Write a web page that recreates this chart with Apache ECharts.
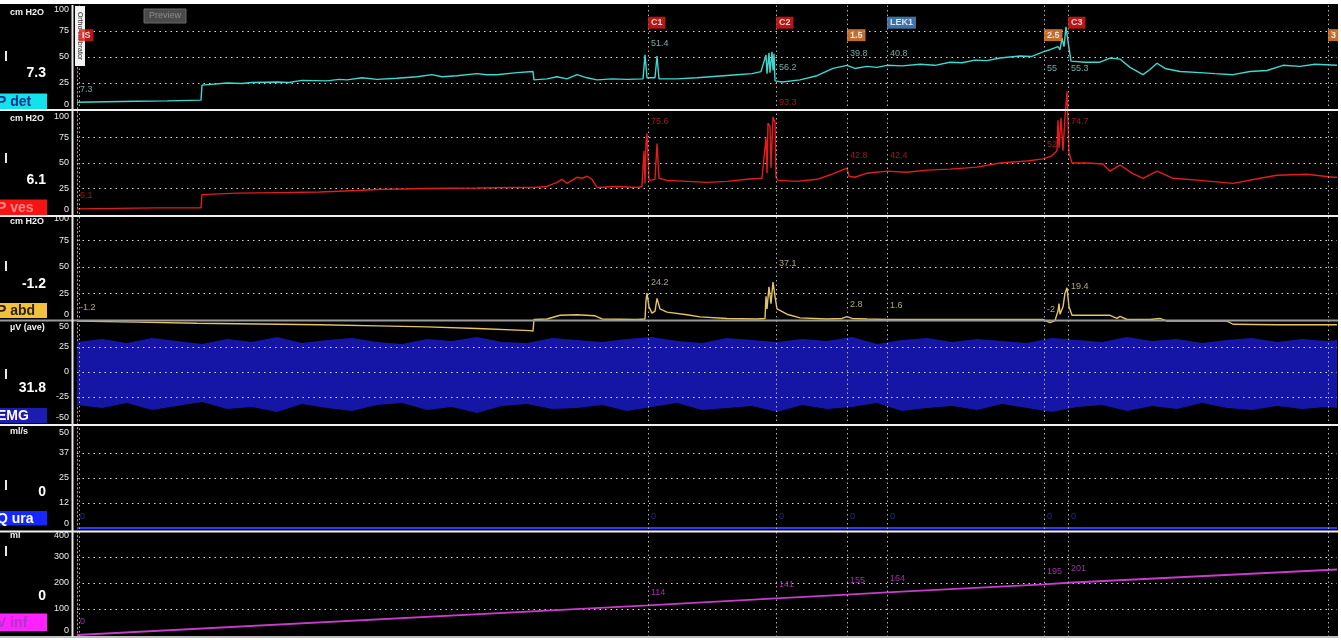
<!DOCTYPE html>
<html><head><meta charset="utf-8">
<script src="https://cdn.jsdelivr.net/npm/echarts@6/dist/echarts.min.js"></script>
<style>html,body{margin:0;padding:0;background:#fff;}#c{width:1341px;height:640px;}</style>
</head><body><div id="c"></div>
<script>
// ---------------- DATA ----------------
const channelNames = ['P det', 'P ves', 'P abd', 'EMG', 'Q ura', 'V inf'];
const channelUnits = ['cm H2O', 'cm H2O', 'cm H2O', 'µV (ave)', 'ml/s', 'ml'];
const currentValues = ['7.3', '6.1', '-1.2', '31.8', '0', '0'];

const pressureTicks = [0, 25, 50, 75, 100];
const emgTicks = [-50, -25, 0, 25, 50];
const quraTicks = [0, 12.5, 25, 37.5, 50];
const vinfTicks = [0, 100, 200, 300, 400];
const timeRange = [0, 1260];

const eventNames = ['IS', 'C1', 'C2', '1.5', 'LEK1', '2.5', 'C3', '3'];
const eventKinds = ['start', 'cough', 'cough', 'fill', 'leak', 'fill', 'cough', 'fill'];
const eventTimes = [2, 571, 699, 770, 810, 967, 991, 1251];

const pdet = [[0,6.5],[30,7],[60,7.5],[90,7.8],[124,8.5],[125,23],[127,24.5],[150,25],[165,24.5],[175,25.5],[200,26],[212,25.5],[225,27.5],[250,27],[262,28.5],[270,28],[285,30],[300,28.5],[320,29.5],[340,31],[355,33],[365,31],[380,32],[400,34],[410,33],[420,33],[440,35],[456,36],[457,28],[470,29],[480,31],[490,29],[500,33],[510,30],[520,28],[535,29],[550,28.5],[566,29],[568,52],[570,30],[578,30],[580,51],[582,29],[600,29],[620,30],[640,31.5],[660,33],[675,34],[684,36],[689,52],[690,34],[692,54],[693,35],[695,55],[696,37],[697,53],[698,27],[705,26],[723,28],[740,32],[756,39],[770,42],[778,39],[790,41],[800,40],[810,42],[825,41.5],[843,43],[858,42],[873,45],[885,44.5],[898,47],[910,46.5],[923,49],[943,51],[955,50.5],[966,55],[973,57],[981,60],[983,57],[985,68],[987,60],[989,79],[991,65],[994,46],[1008,45],[1023,45],[1033,49],[1043,48],[1053,40],[1066,33],[1073,38],[1080,44],[1088,39],[1103,36],[1123,35],[1138,34],[1156,33],[1173,36],[1190,37],[1206,42],[1223,41],[1238,43],[1260,42]];

const pves = [[0,5],[40,5.5],[80,6],[124,6],[125,19],[127,20],[160,20.5],[200,21],[243,21.5],[280,23],[300,24],[350,25],[400,25.5],[440,26],[457,26],[470,27],[480,31],[485,34],[490,30],[495,33],[500,36],[505,35],[510,37],[515,34],[520,26],[540,27],[560,26],[565,27],[566,45],[567,62],[568,30],[569,70],[570,79],[572,33],[578,34],[580,69],[582,35],[590,33],[610,32],[630,31],[650,32],[670,34],[685,35],[689,75],[690,40],[691,89],[693,86],[694,45],[696,95],[698,90],[699,36],[701,33],[720,32],[740,34],[755,39],[770,45],[772,37],[778,36],[790,40],[810,42],[830,41],[850,43],[873,44],[900,46],[923,50],[950,52],[966,54],[975,57],[980,62],[981,92],[982,65],[984,94],[986,62],[988,95],[990,120],[992,60],[995,50],[1010,50],[1026,49],[1033,42],[1043,48],[1055,40],[1066,35],[1080,42],[1096,35],[1123,33],[1156,30],[1183,35],[1200,38],[1230,39],[1256,36],[1260,36]];

const pabd = [[0,-1.5],[60,-2.5],[120,-3.5],[243,-5],[300,-6],[350,-7],[400,-8.5],[453,-10.5],[456,-11],[457,0],[470,0.5],[483,4],[500,4.5],[518,3.5],[525,0.5],[560,0],[568,0.5],[569,18],[570,25],[572,12],[575,6],[578,8],[580,20],[583,10],[590,7],[610,4.5],[623,2.5],[650,1],[680,0.5],[688,1],[689,22],[690,10],[692,31],[694,15],[696,35.5],[698,22],[700,10],[710,5],[723,1.5],[750,0.5],[765,1],[770,2.8],[775,1],[790,0.5],[810,0],[850,0],[900,0],[966,0],[973,-3],[978,-1],[981,8],[982,15],[983,5],[986,12],[988,25],[990,30],[992,12],[995,4],[1010,4],[1033,4],[1040,1],[1043,3],[1050,0],[1073,0],[1083,1],[1090,-1.5],[1150,-1.5],[1156,-4.5],[1200,-5],[1260,-5]];

const emgTime = [0,25,50,75,100,125,150,175,200,225,250,275,300,325,350,375,400,425,450,475,500,525,550,575,600,625,650,675,700,725,750,775,800,825,850,875,900,925,950,975,1000,1025,1050,1075,1100,1125,1150,1175,1200,1225,1250,1260];
const emgUpper = [30,33,29,34,31,28,33,30,35,29,32,34,30,28,33,31,35,30,29,34,32,30,33,35,31,29,34,32,30,33,31,35,28,32,34,30,33,31,29,34,32,30,35,31,33,29,32,34,30,33,31,32];
const emgLower = [-33,-36,-31,-38,-34,-30,-37,-35,-40,-32,-36,-39,-33,-31,-38,-35,-41,-34,-32,-37,-36,-33,-39,-35,-31,-38,-36,-34,-40,-33,-37,-35,-31,-39,-36,-34,-38,-32,-36,-40,-35,-33,-39,-34,-37,-31,-36,-38,-34,-37,-35,-36];

const qura = [[0,0],[1260,0]];
const vinf = [[0,0],[571,114],[699,141],[770,155],[810,164],[967,195],[991,201],[1260,252]];

const noteTimes = [0, 571, 699, 770, 810, 967, 991];
const pdetNotes = ['7.3','51.4','56.2','39.8','40.8','55','55.3'];
const pdetNoteLevel = [19, 63, 40, 53, 53, 39, 39];
const pvesNotes = ['6.1','75.6','93.3','42.8','42.4','52','74.7'];
const pvesNoteLevel = [18.6, 91, 109, 57, 57, 68, 91];
const pabdNotes = ['-1.2','24.2','37.1','2.8','1.6','-2','19.4'];
const pabdNoteLevel = [11, 35, 53, 14.6, 13.7, 9, 31];
const quraNotes = ['0','0','0','0','0','0','0'];
const quraNoteLevel = [5.5, 5.5, 5.5, 5.5, 5.5, 5.5, 5.5];
const vinfNotes = ['0','114','141','155','164','195','201'];
const vinfNoteLevel = [50, 165, 196, 211, 219, 246, 254];

// ---------------- LAYOUT / STYLE ----------------
const FF = '"Liberation Sans", Arial, sans-serif';
const LEFT = 77, RIGHT = 4;
const panels = [
  {top: 5, h: 104}, {top: 112, h: 102}, {top: 214, h: 105.5},
  {top: 322, h: 100}, {top: 428, h: 100}, {top: 531, h: 104}
];
const sepY = [110, 216, 320.5, 425, 531.5, 637];
const sepColor = ['#f0f0f0', '#f0f0f0', '#9a9a9a', '#f0f0f0', '#f0f0f0', '#bdbdbd'];
const boxTop = [93.5, 199.5, 303, 408, 511, 613.5];
const boxH = [15.5, 15.5, 15, 15, 14.5, 17.5];
const boxFill = ['#14e2ea', '#f41414', '#f2c23a', '#1c1cb0', '#1428ff', '#ff22ff'];
const boxText = ['#10308a', '#ff8a8a', '#2a1e08', '#ffffff', '#ffffff', '#a838c8'];
const valueY = [73, 180, 284, 388, 492, 596];
const unitY = [13, 119, 222, 328, 432, 536];
const barY = [51, 153, 261, 369, 480, 546];
const traceColors = ['#3ed8cf', '#e41c1c', '#e3c468', '#1616a6', '#2a3cff', '#c73cc9'];
const noteColors = ['#8fd4d0', '#b82424', '#d9cc98', '#2a2aa0', '#2a3ab8', '#c040c8'];
const eventColor = {start: '#e51c1c', cough: '#e51c1c', fill: '#f08a3c', leak: '#4f8fcf'};
const eventLevel = {start: 71, cough: 83, fill: 71, leak: 83};

const grids = panels.map(p => ({left: LEFT, right: RIGHT, top: p.top, height: p.h}));
grids.push({left: LEFT, right: RIGHT, top: 5, height: 632});

const xAxes = grids.map((g, i) => ({
  gridIndex: i, type: 'value', min: timeRange[0], max: timeRange[1], show: false
}));

function yAx(gi, ticks, fmt) {
  return {
    gridIndex: gi, type: 'value', min: ticks[0], max: ticks[ticks.length - 1],
    interval: ticks[1] - ticks[0],
    axisLine: {show: false}, axisTick: {show: false},
    axisLabel: {color: '#ececec', fontSize: 9, fontFamily: FF, margin: 8,
      formatter: fmt || (v => String(v)),
      verticalAlignMinLabel: 'bottom', verticalAlignMaxLabel: 'top'},
    splitLine: {show: true, showMinLine: false, showMaxLine: false,
      lineStyle: {color: '#d8d8d8', type: [1.5, 4], width: 1.2}},
    z: 3
  };
}
const yAxes = [
  yAx(0, pressureTicks), yAx(1, pressureTicks), yAx(2, pressureTicks),
  yAx(3, emgTicks), yAx(4, quraTicks, v => String(Math.floor(v))), yAx(5, vinfTicks),
  {gridIndex: 6, type: 'value', min: 0, max: 1, axisLabel: {show: false}, axisTick: {show: false},
   splitLine: {show: false}, axisLine: {show: true, lineStyle: {color: '#b98a96', type: [1.5, 2.5], width: 1}}}
];

function trace(gi, data, color, extra) {
  return Object.assign({
    type: 'line', xAxisIndex: gi, yAxisIndex: gi, data: data, symbol: 'none',
    lineStyle: {color: color, width: 1.4}, clip: false, silent: true, z: 4
  }, extra || {});
}
function notes(gi, texts, levels, color) {
  return {
    type: 'scatter', xAxisIndex: gi, yAxisIndex: gi, symbolSize: 0, silent: true, clip: false, z: 6,
    data: noteTimes.map((t, k) => ({value: [t, levels[k]], name: texts[k]})),
    label: {show: true, position: 'right', distance: 3, formatter: p => p.name,
      color: color, fontSize: 9, fontFamily: FF}
  };
}

const series = [
  trace(0, pdet, traceColors[0]),
  trace(1, pves, traceColors[1]),
  trace(2, pabd, traceColors[2]),
  // EMG envelope: two areas filled from the zero line to the upper and lower envelope
  {type: 'line', xAxisIndex: 3, yAxisIndex: 3, symbol: 'none', silent: true, z: 1,
   lineStyle: {width: 0}, areaStyle: {color: traceColors[3], opacity: 1, origin: 'auto'},
   data: emgTime.map((t, k) => [t, emgUpper[k]])},
  {type: 'line', xAxisIndex: 3, yAxisIndex: 3, symbol: 'none', silent: true, z: 1,
   lineStyle: {width: 0}, areaStyle: {color: traceColors[3], opacity: 1, origin: 'auto'},
   data: emgTime.map((t, k) => [t, emgLower[k]])},
  trace(4, qura, traceColors[4], {lineStyle: {color: traceColors[4], width: 2}}),
  trace(5, vinf, traceColors[5], {lineStyle: {color: traceColors[5], width: 1.8}}),
  notes(0, pdetNotes, pdetNoteLevel, noteColors[0]),
  notes(1, pvesNotes, pvesNoteLevel, noteColors[1]),
  notes(2, pabdNotes, pabdNoteLevel, noteColors[2]),
  notes(4, quraNotes, quraNoteLevel, noteColors[4]),
  notes(5, vinfNotes, vinfNoteLevel, noteColors[5]),
  {type: 'scatter', xAxisIndex: 6, yAxisIndex: 6, symbolSize: 0, silent: true, data: [[0, -1]], z: 5,
   markLine: {symbol: 'none', silent: true, label: {show: false},
     lineStyle: {color: '#b0b0b0', type: [1.5, 3], width: 1},
     data: eventTimes.map(t => ({xAxis: t}))}},
  {type: 'scatter', xAxisIndex: 0, yAxisIndex: 0, symbolSize: 0, silent: true, clip: false, z: 10,
   data: eventTimes.map((t, k) => ({value: [t, eventLevel[eventKinds[k]]], name: eventNames[k],
     label: {backgroundColor: eventColor[eventKinds[k]]}})),
   label: {show: true, position: 'right', distance: 0, formatter: p => p.name,
     color: '#ffffff', fontSize: 9, fontWeight: 'bold', fontFamily: FF, padding: [2, 3, 1, 3]}}
];

// decorative graphics (left panel, separators, borders)
const graphics = [];
sepY.forEach((y, i) => graphics.push({type: 'line', z: 20, silent: true,
  shape: {x1: 0, y1: y, x2: 1338, y2: y}, style: {stroke: sepColor[i], lineWidth: 2}}));
graphics.push({type: 'line', z: 20, silent: true, shape: {x1: 72.5, y1: 5, x2: 72.5, y2: 637},
  style: {stroke: '#e8e8e8', lineWidth: 2}});
channelNames.forEach((name, i) => {
  graphics.push({type: 'text', z: 21, silent: true, x: 10, y: unitY[i],
    style: {text: channelUnits[i], fill: '#f2f2f2', font: 'bold 9px ' + FF, verticalAlign: 'middle'}});
  graphics.push({type: 'text', z: 21, silent: true, x: 46, y: valueY[i],
    style: {text: currentValues[i], fill: '#ffffff', font: 'bold 14px ' + FF, align: 'right', verticalAlign: 'middle'}});
  graphics.push({type: 'rect', z: 21, silent: true, shape: {x: 5, y: barY[i], width: 2, height: 10},
    style: {fill: '#e8e8e8'}});
  graphics.push({type: 'rect', z: 21, silent: true, shape: {x: 0, y: boxTop[i], width: 47, height: boxH[i]},
    style: {fill: boxFill[i]}});
  graphics.push({type: 'text', z: 22, silent: true, x: -3, y: boxTop[i] + boxH[i] / 2 + 0.5,
    style: {text: name, fill: boxText[i], font: 'bold 14px ' + FF, verticalAlign: 'middle'}});
});
// Preview button
graphics.push({type: 'rect', z: 21, silent: true, shape: {x: 144, y: 9, width: 42, height: 14},
  style: {fill: '#4a4a4a', stroke: '#6a6a6a', lineWidth: 1}});
graphics.push({type: 'text', z: 22, silent: true, x: 165, y: 16,
  style: {text: 'Preview', fill: '#8c8c8c', font: '9px ' + FF, align: 'center', verticalAlign: 'middle'}});
// rotated calibration tag
graphics.push({type: 'rect', z: 8, silent: true, shape: {x: 75, y: 6, width: 10, height: 60},
  style: {fill: '#f2f2f2'}});
graphics.push({type: 'text', z: 9, silent: true, x: 80, y: 36, rotation: -Math.PI / 2,
  style: {text: 'Ortho calibrator', fill: '#222', font: '7px ' + FF, align: 'center', verticalAlign: 'middle'}});
// white borders
graphics.push({type: 'rect', z: 30, silent: true, shape: {x: 0, y: 0, width: 1341, height: 4}, style: {fill: '#fff'}});
graphics.push({type: 'rect', z: 30, silent: true, shape: {x: 1338, y: 0, width: 3, height: 640}, style: {fill: '#fff'}});
graphics.push({type: 'rect', z: 30, silent: true, shape: {x: 0, y: 638, width: 1341, height: 2}, style: {fill: '#fff'}});

const chart = echarts.init(document.getElementById('c'), null, {renderer: 'canvas'});
chart.setOption({
  backgroundColor: '#000000',
  animation: false,
  grid: grids,
  xAxis: xAxes,
  yAxis: yAxes,
  series: series,
  graphic: graphics
});
</script></body></html>
